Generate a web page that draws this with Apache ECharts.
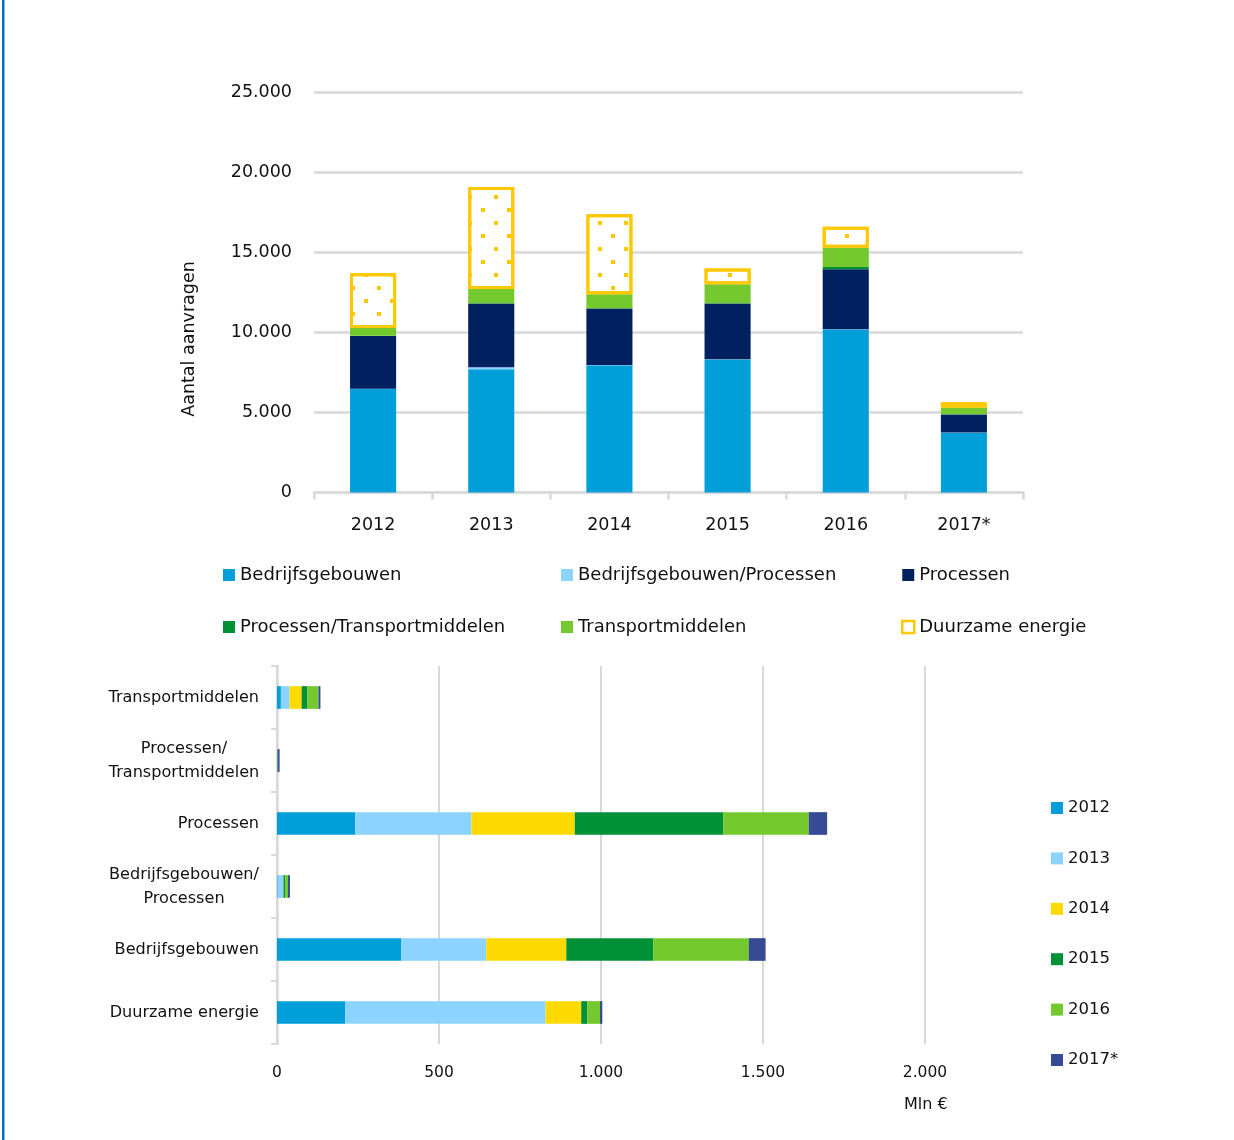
<!DOCTYPE html>
<html>
<head>
<meta charset="utf-8">
<script src="https://cdn.jsdelivr.net/npm/echarts@6/dist/echarts.min.js"></script>
<style>
  html, body { margin: 0; padding: 0; background: #fff; }
  #chart { width: 1234px; height: 1140px; }
</style>
</head>
<body>
<div id="chart"></div>
<script>
// Aanvragen per jaar, per categorie (bovenste grafiek)
const years = ['2012', '2013', '2014', '2015', '2016', '2017*'];
const bedrijfsgebouwen = [6470, 7690, 7940, 8300, 10170, 3730];
const bedrijfsgebouwenProcessen = [10, 130, 20, 10, 20, 10];
const processen = [3290, 3970, 3520, 3480, 3740, 1130];
const processenTransport = [20, 20, 20, 30, 140, 10];
const transportmiddelen = [480, 890, 880, 1180, 1210, 430];
const duurzameEnergie = [3420, 6370, 4990, 990, 1310, 330];
const countTicks = [0, 5000, 10000, 15000, 20000, 25000];

// Investeringsbedrag (Mln €) per categorie en jaar (onderste grafiek)
const domains = ['Transportmiddelen', 'Processen/Transportmiddelen', 'Processen',
  'Bedrijfsgebouwen/Processen', 'Bedrijfsgebouwen', 'Duurzame energie'];
const amountYears = ['2012', '2013', '2014', '2015', '2016', '2017*'];
const amount2012 = [12, 0, 242, 2, 384, 211];
const amount2013 = [27, 0, 358, 17, 262, 618];
const amount2014 = [37, 0, 319, 1, 247, 110];
const amount2015 = [18, 1, 458, 6, 268, 19];
const amount2016 = [34, 1, 264, 8, 295, 39];
const amount2017 = [6, 6, 57, 6, 52, 7];
const amountTicks = [0, 500, 1000, 1500, 2000];

const FONT = 'DejaVu Sans';
const INK = '#111';
const GRID_GREY = '#D9D9D9';
const YELLOW = '#FFC800';

function thousands(v) {
  return String(v).replace(/\B(?=(\d{3})+(?!\d))/g, '.');
}

const topColors = ['#009FDA', '#8DD3FF', '#002060', '#009036', '#73C92D'];
const topSeries = [
  ['Bedrijfsgebouwen', bedrijfsgebouwen],
  ['Bedrijfsgebouwen/Processen', bedrijfsgebouwenProcessen],
  ['Processen', processen],
  ['Processen/Transportmiddelen', processenTransport],
  ['Transportmiddelen', transportmiddelen]
].map(([name, data], i) => ({
  name, type: 'bar', stack: 'aanvragen', xAxisIndex: 0, yAxisIndex: 0,
  barWidth: '39%', data, itemStyle: { color: topColors[i] }
}));
// Duurzame energie: open kader met stippelvulling
topSeries.push({
  name: 'Duurzame energie', type: 'bar', stack: 'aanvragen', xAxisIndex: 0, yAxisIndex: 0,
  barWidth: '39%', data: duurzameEnergie,
  itemStyle: {
    color: '#fff', borderColor: YELLOW, borderWidth: 3,
    decal: {
      symbol: 'rect', symbolSize: 1, color: YELLOW,
      dashArrayX: [[4, 22], [0, 13, 4, 9]],
      dashArrayY: [4, 9]
    }
  }
});

const yearColors = ['#009FDA', '#8DD3FF', '#FFDA00', '#009036', '#73C92D', '#364A96'];
const amountData = [amount2012, amount2013, amount2014, amount2015, amount2016, amount2017];
const bottomSeries = amountYears.map((name, i) => ({
  name, type: 'bar', stack: 'bedrag', xAxisIndex: 1, yAxisIndex: 1,
  barWidth: '36%', data: amountData[i], itemStyle: { color: yearColors[i] }
}));

const legendBase = {
  orient: 'vertical', icon: 'rect', itemWidth: 12, itemHeight: 12,
  selectedMode: false,
  textStyle: { fontFamily: FONT, fontSize: 18, color: INK, lineHeight: 20 }
};

const chart = echarts.init(document.getElementById('chart'), null, { renderer: 'canvas' });
chart.setOption({
  animation: false,
  backgroundColor: '#fff',
  textStyle: { fontFamily: FONT },
  grid: [
    { left: 314, right: 211, top: 92, bottom: 647.5 },
    { left: 277, right: 309, top: 666, bottom: 96 }
  ],
  legend: [
    Object.assign({}, legendBase, { left: 218, top: 560, itemGap: 32,
      data: ['Bedrijfsgebouwen', 'Processen/Transportmiddelen'] }),
    Object.assign({}, legendBase, { left: 556, top: 560, itemGap: 32,
      data: ['Bedrijfsgebouwen/Processen', 'Transportmiddelen'] }),
    Object.assign({}, legendBase, { left: 896, top: 560, itemGap: 32,
      data: ['Processen', { name: 'Duurzame energie', itemStyle: { borderWidth: 2.5, decal: 'none' } }] }),
    Object.assign({}, legendBase, { left: 1046, top: 793, itemGap: 30.4,
      textStyle: { fontFamily: FONT, fontSize: 16.5, color: INK, lineHeight: 20 },
      data: amountYears })
  ],
  xAxis: [
    {
      type: 'category', gridIndex: 0, data: years,
      axisLine: { lineStyle: { color: GRID_GREY, width: 2.5 } },
      axisTick: { show: true, length: 7, lineStyle: { color: GRID_GREY, width: 2.5 } },
      axisLabel: { fontFamily: FONT, fontSize: 17.5, color: INK, margin: 24 }
    },
    {
      type: 'value', gridIndex: 1,
      min: amountTicks[0], max: amountTicks[amountTicks.length - 1],
      interval: amountTicks[1] - amountTicks[0],
      axisLine: { show: false }, axisTick: { show: false },
      splitLine: { lineStyle: { color: GRID_GREY, width: 2 } },
      axisLabel: { fontFamily: FONT, fontSize: 15.5, color: INK, margin: 21, formatter: thousands }
    }
  ],
  yAxis: [
    {
      type: 'value', gridIndex: 0,
      min: countTicks[0], max: countTicks[countTicks.length - 1],
      interval: countTicks[1] - countTicks[0],
      axisLine: { show: false }, axisTick: { show: false },
      splitLine: { lineStyle: { color: GRID_GREY, width: 2.5 } },
      axisLabel: { fontFamily: FONT, fontSize: 17.5, color: INK, margin: 22, formatter: thousands }
    },
    {
      type: 'category', gridIndex: 1, data: domains, inverse: true,
      axisLine: { show: true, lineStyle: { color: GRID_GREY, width: 2.5 } },
      axisTick: { show: true, length: 6, lineStyle: { color: GRID_GREY, width: 2 } },
      axisLabel: {
        fontFamily: FONT, fontSize: 16.1, color: INK, margin: 18,
        formatter: function (v) {
          const cut = v.indexOf('/');
          if (cut < 0) return v;
          return '{c|' + v.slice(0, cut + 1) + '}\n{c|' + v.slice(cut + 1) + '}';
        },
        rich: {
          c: { fontFamily: FONT, fontSize: 16.1, color: INK, width: 150, align: 'center', lineHeight: 24 }
        }
      }
    }
  ],
  series: topSeries.concat(bottomSeries),
  graphic: [
    { type: 'rect', left: 2, top: 0, shape: { width: 2.5, height: 1140 }, style: { fill: '#0070C0' } },
    {
      type: 'text', x: 189, y: 339, rotation: Math.PI / 2,
      style: { text: 'Aantal aanvragen', fontFamily: FONT, fontSize: 17.5, fill: INK,
        align: 'center', verticalAlign: 'middle' }
    },
    { type: 'text', left: 904, top: 1097, style: { text: 'Mln €', fontFamily: FONT, fontSize: 16, fill: INK } }
  ]
});
</script>
</body>
</html>
